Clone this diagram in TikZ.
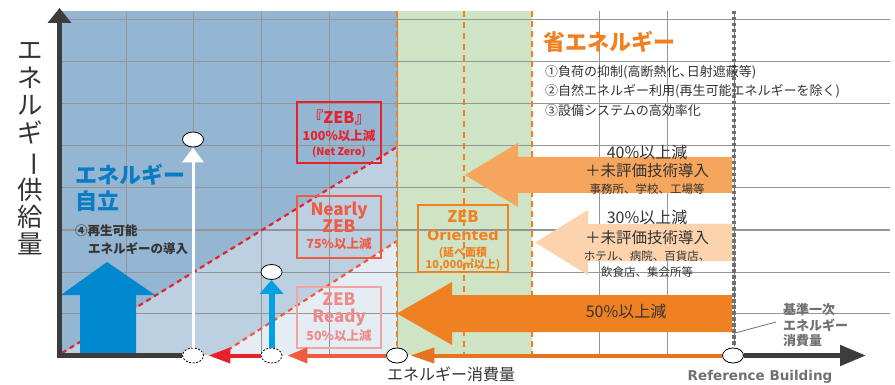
\documentclass[tikz,border=0pt]{standalone}
\usepackage{fontspec}
\setmainfont{Noto Sans CJK JP}
\newfontfamily\latf{DejaVu Sans}[BoldFont={DejaVu Sans Bold}]
\usepackage{graphicx}
\usetikzlibrary{arrows.meta,shapes.geometric}
\definecolor{bluebg}{HTML}{94B6D2}
\definecolor{bluemid}{HTML}{BCD0E2}
\definecolor{bluelt}{HTML}{E4ECF4}
\definecolor{greenbg}{HTML}{CFE4C4}
\definecolor{gridc}{HTML}{959595}
\definecolor{zred}{HTML}{E8202A}
\definecolor{zoranred}{HTML}{F05A40}
\definecolor{zpink}{HTML}{F4A3A3}
\definecolor{zpinkt}{HTML}{F08A8A}
\definecolor{zorange}{HTML}{F08020}
\definecolor{ar40}{HTML}{F5A55C}
\definecolor{ar30}{HTML}{FCD3AD}
\definecolor{ar50}{HTML}{F08122}
\definecolor{arline}{HTML}{E8731E}
\definecolor{zblue}{HTML}{0A7CC4}
\definecolor{bigblue}{HTML}{0088CE}
\definecolor{cyanar}{HTML}{00A0E2}
\definecolor{axisc}{HTML}{3C3C3C}
\definecolor{txtc}{HTML}{333333}
\definecolor{grayt}{HTML}{707070}
\newcommand\fsz[1]{\fontsize{#1}{#1}\selectfont}
\newcommand\hcomma{\makebox[0.55em][l]{、}}
\tikzset{
  gridline/.style={gridc, line width=1pt},
  txt/.style={inner sep=0pt, text height=0.74em, text depth=0pt, anchor=center, text=txtc},
  zbox/.style={draw, line width=1.5pt, inner sep=0pt},
  ell/.style={ellipse, draw=black, fill=white, line width=0.8pt, minimum width=21pt, minimum height=15pt, inner sep=0pt},
  dell/.style={ell, dash pattern=on 2pt off 1.5pt},
}
\begin{document}
\begin{tikzpicture}[x=1pt,y=-1pt]
\useasboundingbox (0,0) rectangle (895,385);
% regions
\fill[bluebg] (60,11) rectangle (397,355);
\fill[bluemid] (60,355) -- (397,147) -- (397,355) -- cycle;
\fill[bluelt] (220,355) -- (397,241) -- (397,355) -- cycle;
\fill[greenbg] (397,11) rectangle (532,355);
% grid
\foreach \y in {20,62,104,146,188,230,272,313} \draw[gridline] (60,\y) -- (890,\y);
\foreach \x in {126,193.5,261,329,397,599,667} \draw[gridline] (\x,11) -- (\x,355);
% dashed diagonals
\draw[zred, line width=2.2pt, dash pattern=on 5pt off 4pt] (62,353) -- (397,147);
\draw[zoranred, line width=2.2pt, dash pattern=on 5pt off 4pt] (220,355) -- (397,241);
% vertical dashed
\draw[zorange, line width=2.5pt, dash pattern=on 6pt off 4pt] (397,11) -- (397,346);
\draw[zorange, line width=2.5pt, dash pattern=on 6pt off 4pt] (532,11) -- (532,355);
\draw[zorange, line width=1.5pt, dash pattern=on 6pt off 5pt] (464,11) -- (464,355);
\draw[grayt, line width=0.8pt] (734,11) -- (734,346);
\draw[grayt, line width=4pt, dash pattern=on 3.5pt off 2.5pt] (734,11) -- (734,346);
% block arrows
\fill[ar40] (732,157) -- (518,157) -- (518,143) -- (465,175) -- (518,207) -- (518,193) -- (732,193) -- cycle;
\fill[ar30] (732,224) -- (588,224) -- (588,210) -- (535,242.5) -- (588,275) -- (588,261) -- (732,261) -- cycle;
\fill[ar50] (732,295) -- (452,295) -- (452,282) -- (397,313.5) -- (452,345) -- (452,332) -- (732,332) -- cycle;
\fill[bigblue] (80,354) -- (80,295) -- (61,295) -- (107,262) -- (155,295) -- (136,295) -- (136,354) -- cycle;
% boxes
\node[zbox, draw=zred, minimum width=84pt, minimum height=61pt] (bzeb) at (339,132.5) {};
\node[zbox, draw=zoranred, minimum width=84pt, minimum height=62pt] (bnear) at (339,227) {};
\node[zbox, draw=zpink, minimum width=84pt, minimum height=61pt] (bready) at (339,317.5) {};
\node[zbox, draw=zorange, minimum width=90pt, minimum height=67pt] (borient) at (463,238.5) {};
% box texts
\node[txt, text=zred, font=\fsz{16}\bfseries] (t1a) at (339,120) {『ZEB』};
\node[txt, text=zred, font=\fsz{12.5}\bfseries] (t1b) at (339,137) {100\%以上減};
\node[txt, text=zred, font=\fsz{10.5}\bfseries] (t1c) at (339,152) {(Net Zero)};
\node[txt, text=zoranred, font=\fsz{17}\bfseries] (t2a) at (339,212) {Nearly};
\node[txt, text=zoranred, font=\fsz{17}\bfseries] (t2b) at (339,229) {ZEB};
\node[txt, text=zoranred, font=\fsz{12.5}\bfseries] (t2c) at (339,245) {75\%以上減};
\node[txt, text=zpinkt, font=\fsz{17}\bfseries] (t3a) at (339,302) {ZEB};
\node[txt, text=zpinkt, font=\fsz{17}\bfseries] (t3b) at (339,319) {Ready};
\node[txt, text=zpinkt, font=\fsz{12.5}\bfseries] (t3c) at (339,337) {50\%以上減};
\node[txt, text=zorange, font=\fsz{16}\bfseries] (t4a) at (463,219) {ZEB};
\node[txt, text=zorange, font=\latf\fsz{14.5}\bfseries] (t4b) at (463,237) {Oriented};
\node[txt, text=zorange, font=\fsz{11}\bfseries] (t4c) at (463,253) {(延べ面積};
\node[txt, text=zorange, font=\fsz{11}\bfseries] (t4d) at (463,265) {10,000㎡以上)};
% ellipses
\node[ell] (top1) at (193,139.5) {};
\node[ell] (top2) at (271.5,272) {};
\node[dell] (b1) at (193,355.5) {};
\node[dell] (b2) at (271.5,355.5) {};
\node[ell] (b3) at (397,355.5) {};
\node[ell] (ref) at (733,355.5) {};
\coordinate (xorig) at (57.5,355.5);
\coordinate (yorig) at (59.5,358);
\coordinate (ytop) at (59.5,8);
\coordinate (xend) at (866,355.5);
% vertical arrows
\draw[white, line width=3pt, -{Triangle[length=15pt,width=21pt]}] (b1.north) -- (top1.south);
\draw[cyanar, line width=6pt, -{Triangle[length=14pt,width=23pt]}] (b2.north) -- (top2.south);
% axes
\draw[axisc, line width=5pt, -{Triangle[length=15pt,width=23pt]}] (yorig) -- (ytop);
\draw[axisc, line width=5pt] (xorig) -- (b1.west);
\draw[axisc, line width=5pt, -{Triangle[length=26pt,width=20pt]}] (ref.east) -- (xend);
% horizontal arrows on the axis
\draw[zred, line width=4pt, -{Triangle[length=22pt,width=15pt]}, shorten >=4.5pt] (b2.west) -- (b1.east);
\draw[zoranred, line width=4pt, -{Triangle[length=20pt,width=15pt]}, shorten >=5pt] (b3.west) -- (b2.east);
\draw[arline, line width=4pt, -{Triangle[length=24pt,width=15pt]}, shorten >=2.5pt] (ref.west) -- (b3.east);
% leader
\coordinate (ldA) at (735,333);
\coordinate (ldB) at (776,322);
\draw[grayt, line width=0.8pt] (ldA) -- (ldB);
% y label
\node[inner sep=0pt, align=center, text=txtc, font=\fontsize{25.5}{27.4}\selectfont] (ylab) at (30,149)
  {エ\\ネ\\ル\\ギ\\\rotatebox[origin=c]{-90}{ー}\\供\\給\\量};
% texts
\node[txt, anchor=west, text=zblue, font=\fsz{22}\bfseries] (ji1) at (75,180) {エネルギー};
\node[txt, anchor=west, text=zblue, font=\fsz{22}\bfseries] (ji2) at (75,206) {自立};
\node[txt, anchor=west, font=\fsz{12.5}\bfseries] (ji3) at (75,232) {④再生可能};
\node[txt, anchor=west, font=\fsz{12.5}\bfseries] (ji4) at (88,250) {エネルギーの導入};
\node[txt, anchor=west, text=zorange, font=\fsz{22}\bfseries] (se0) at (543,47) {省エネルギー};
\node[txt, anchor=west, font=\fsz{13}] (se1) at (545,73) {①負荷の抑制(高断熱化\hcomma 日射遮蔽等)};
\node[txt, anchor=west, font=\fsz{13}] (se2) at (545,92) {②自然エネルギー利用(再生可能エネルギーを除く)};
\node[txt, anchor=west, font=\fsz{13}] (se3) at (545,112) {③設備システムの高効率化};
\node[txt, font=\fsz{16}] (a40a) at (647,155) {40\%以上減};
\node[txt, font=\fsz{15.5}] (a40b) at (647,173) {＋未評価技術導入};
\node[txt, font=\fsz{11.5}] (a40c) at (647,190) {事務所、学校、工場等};
\node[txt, font=\fsz{16}] (a30a) at (647,220) {30\%以上減};
\node[txt, font=\fsz{15.5}] (a30b) at (647,240) {＋未評価技術導入};
\node[txt, font=\fsz{11.5}] (a30c) at (647,257) {ホテル、病院、百貨店、};
\node[txt, font=\fsz{11.5}] (a30d) at (647,273) {飲食店、集会所等};
\node[txt, font=\fsz{16}] (a50) at (626,313.5) {50\%以上減};
\node[txt, anchor=west, text=grayt, font=\fsz{13}\bfseries] (k1) at (783,311) {基準一次};
\node[txt, anchor=west, text=grayt, font=\fsz{13}\bfseries] (k2) at (783,327) {エネルギー};
\node[txt, anchor=west, text=grayt, font=\fsz{13}\bfseries] (k3) at (783,342) {消費量};
\node[txt, font=\fsz{16}] (xlab) at (451,377) {エネルギー消費量};
\node[txt, text=grayt, font=\latf\fsz{13.5}\bfseries] (rb) at (760,377) {Reference Building};
\end{tikzpicture}
\end{document}
